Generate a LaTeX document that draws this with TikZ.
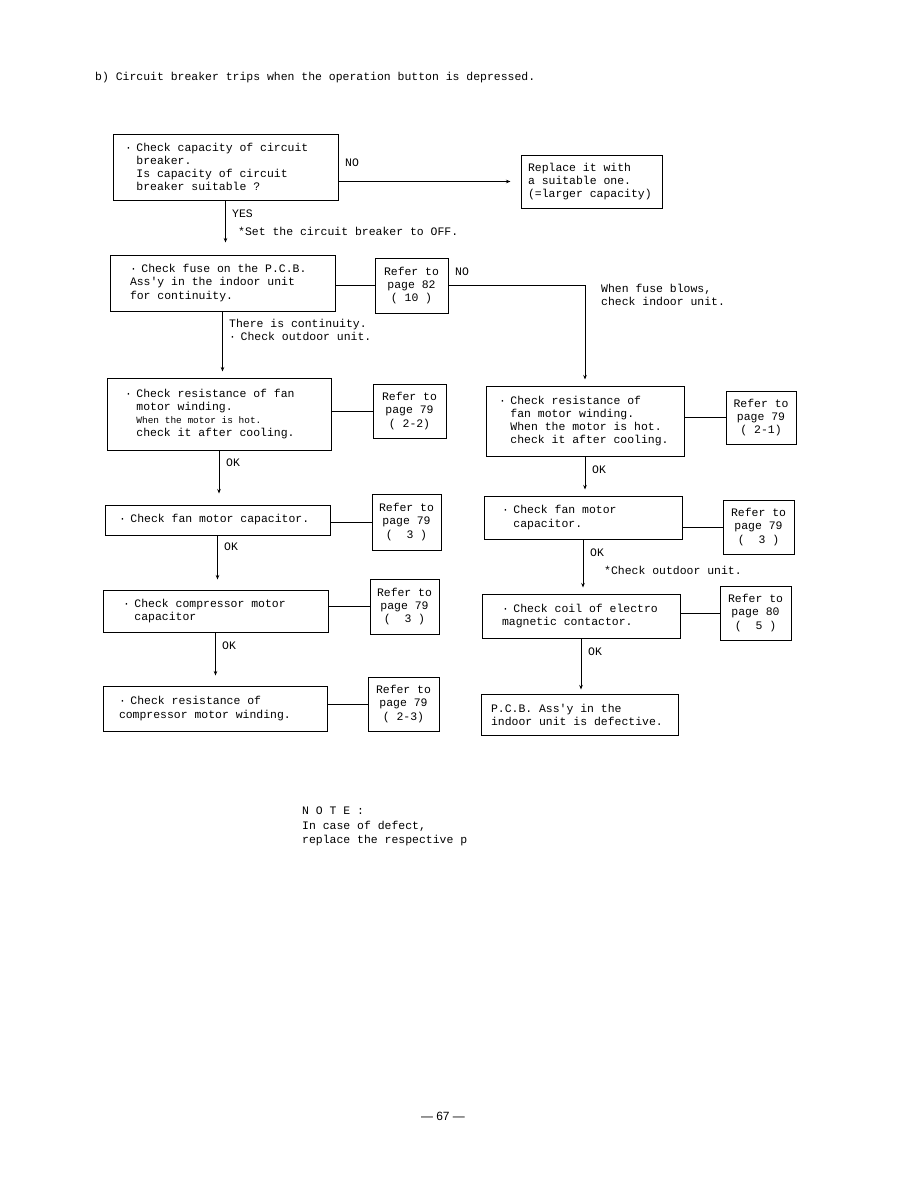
\documentclass[tikz,border=0pt]{standalone}
\usepackage{fontspec}
\setmonofont{Liberation Mono}
\setsansfont{Liberation Sans}
\usetikzlibrary{arrows.meta, positioning}
\newcommand{\tfnt}{\ttfamily\fontsize{11.5}{13.2}\selectfont}
\newcommand{\sfnt}{\ttfamily\fontsize{9.5}{13}\selectfont}
\newcommand{\bul}{\makebox[1em][l]{·}}
\newcommand{\ind}{\hspace*{1em}}

\begin{document}
\begin{tikzpicture}[x=1bp, y=-1bp,
  fullspace/.style={execute at begin node={\spaceskip=0pt\xspaceskip=0pt}},
  chkbox/.style={rectangle, draw, line width=1pt, align=left, fullspace,
                 inner xsep=14bp, inner ysep=2bp, font=\tfnt},
  refbox/.style={rectangle, draw, line width=1pt, align=center, fullspace,
                 inner sep=0pt, font=\tfnt},
  lbl/.style={anchor=west, inner sep=0pt, font=\tfnt, fullspace},
  arr/.style={-{Stealth[length=4.5bp, width=3.5bp]}, line width=0.7pt}
]
\useasboundingbox (0,0) rectangle (918,1188);

\node[lbl, font=\ttfamily\fontsize{11.5}{14}\selectfont] (title) at (95,78)
  {b) Circuit breaker trips when the operation button is depressed.};

% top
\node[chkbox, inner xsep=12bp, text width=201bp, minimum height=66bp] (capbox) at (225.5,167)
  {\bul Check capacity of circuit\\ \ind breaker.\\ \ind Is capacity of circuit\\ \ind breaker suitable ?};
\node[chkbox, inner xsep=7bp, text width=127bp, minimum height=53bp] (replbox) at (591.5,181.5)
  {Replace it with\\ a suitable one.\\ (=larger capacity)};

\draw[arr, shorten >=10bp, line width=0.6pt] (replbox.west -| capbox.east) -- (replbox.west);
\node[lbl] (nocap) at (345,163) {NO};

\node[chkbox, inner xsep=20bp, text width=185bp, minimum height=56bp] (fusebox) at (222.5,283)
  {\bul Check fuse on the P.C.B.\\ Ass'y in the indoor unit\\ for continuity.};
\node[refbox, minimum width=73bp, minimum height=55bp] (ref82) at (411.5,285.5)
  {Refer to\\ page 82\\ ( 10 )};

\draw[arr, shorten >=12bp] (capbox.south) -- (capbox.south |- fusebox.north);
\node[lbl] (yescap) at (232,214) {YES};
\node[lbl] (setoff) at (238,231) {*Set the circuit breaker to OFF.};

\draw (ref82.west -| fusebox.east) -- (ref82.west);
\node[lbl] (nofuse) at (455,272) {NO};
\node[lbl, anchor=north west, align=left] (blows) at (601,284)
  {When fuse blows,\\ check indoor unit.};

% left column
\node[chkbox, inner xsep=18bp, text width=188bp, minimum height=72bp] (fanres) at (219,414)
  {\bul Check resistance of fan\\ \ind motor winding.\\ \ind{\sfnt When the motor is hot.}\\ \ind check it after cooling.};
\node[refbox, minimum width=73bp, minimum height=54bp] (reffanres) at (409.5,411)
  {Refer to\\ page 79\\ ( 2-2)};

\draw[arr, shorten >=6bp] (fusebox.south) -- (fusebox.south |- fanres.north);
\node[lbl, anchor=north west, align=left] (contin) at (229,319)
  {There is continuity.\\ \bul Check outdoor unit.};

\node[chkbox, text width=197bp, minimum height=30bp] (fancap) at (217.5,520)
  {\bul Check fan motor capacitor.};
\node[refbox, minimum width=69bp, minimum height=56bp] (reffancap) at (406.5,522)
  {Refer to\\ page 79\\ (\ \ 3 )};

\node[chkbox, inner xsep=20bp, text width=185bp, minimum height=42bp] (compcap) at (215.5,611)
  {\bul Check compressor motor\\ \ind capacitor};
\node[refbox, minimum width=69bp, minimum height=55bp] (refcompcap) at (404.5,606.5)
  {Refer to\\ page 79\\ (\ \ 3 )};

\node[chkbox, inner xsep=16bp, text width=192bp, minimum height=45bp] (compres) at (215,708.5)
  {\bul Check resistance of\\ compressor motor winding.};
\node[refbox, minimum width=71bp, minimum height=54bp] (refcompres) at (403.5,704)
  {Refer to\\ page 79\\ ( 2-3)};

\draw (reffanres.west -| fanres.east) -- (reffanres.west);
\draw (reffancap.west -| fancap.east) -- (reffancap.west);
\draw (refcompcap.west -| compcap.east) -- (refcompcap.west);
\draw (refcompres.west -| compres.east) -- (refcompres.west);

\draw[arr, shorten >=11bp] (fanres.south) -- (fanres.south |- fancap.north);
\node[lbl] (okfan) at (226,463) {OK};
\draw[arr, shorten >=10bp] (fancap.south) -- (fancap.south |- compcap.north);
\node[lbl] (okcap) at (224,547) {OK};
\draw[arr, shorten >=10bp] (compcap.south) -- (compcap.south |- compres.north);
\node[lbl] (okcomp) at (222,646) {OK};

% right column
\node[chkbox, inner xsep=13bp, text width=172bp, minimum height=70bp] (ifanres) at (585,421)
  {\bul Check resistance of\\ \ind fan motor winding.\\ \ind When the motor is hot.\\ \ind check it after cooling.};
\node[refbox, minimum width=70bp, minimum height=53bp] (refifanres) at (761,417.5)
  {Refer to\\ page 79\\ ( 2-1)};

\draw[arr, shorten >=6bp] (ref82.east) -| (ifanres.north);

\node[chkbox, inner xsep=18bp, text width=162bp, minimum height=43bp] (ifancap) at (583,517.5)
  {\bul Check fan motor\\ \ind capacitor.};
\node[refbox, minimum width=71bp, minimum height=54bp] (refifancap) at (758.5,527)
  {Refer to\\ page 79\\ (\ \ 3 )};

\node[chkbox, inner xsep=20bp, text width=158bp, minimum height=44bp] (coilbox) at (581,616)
  {\bul Check coil of electro\\ magnetic contactor.};
\node[refbox, minimum width=71bp, minimum height=54bp] (refcoil) at (755.5,613)
  {Refer to\\ page 80\\ (\ \ 5 )};

\node[chkbox, inner xsep=10bp, text width=177bp, minimum height=41bp] (pcbbox) at (579.5,714.5)
  {P.C.B. Ass'y in the\\ indoor unit is defective.};

\draw (refifanres.west -| ifanres.east) -- (refifanres.west);
\draw (refifancap.west -| ifancap.east) -- (refifancap.west);
\draw (refcoil.west -| coilbox.east) -- (refcoil.west);

\draw[arr, shorten >=6bp] (ifanres.south) -- (ifanres.south |- ifancap.north);
\node[lbl] (okifan) at (592,470) {OK};
\draw[arr, shorten >=6bp] (ifancap.south) -- (ifancap.south |- coilbox.north);
\node[lbl] (okicap) at (590,553) {OK};
\node[lbl] (outdoor) at (604,570) {*Check outdoor unit.};
\draw[arr, shorten >=4bp] (coilbox.south) -- (coilbox.south |- pcbbox.north);
\node[lbl] (okcoil) at (588,652) {OK};

% note
\node[lbl, anchor=north west, align=left, font=\ttfamily\fontsize{11.5}{14.5}\selectfont] (note) at (302,807)
  {N O T E :\\ In case of defect,\\ replace the respective p};

\node[font=\sffamily\fontsize{12}{14}\selectfont] (pagenum) at (443,1116) {--- 67 ---};
\end{tikzpicture}
\end{document}
